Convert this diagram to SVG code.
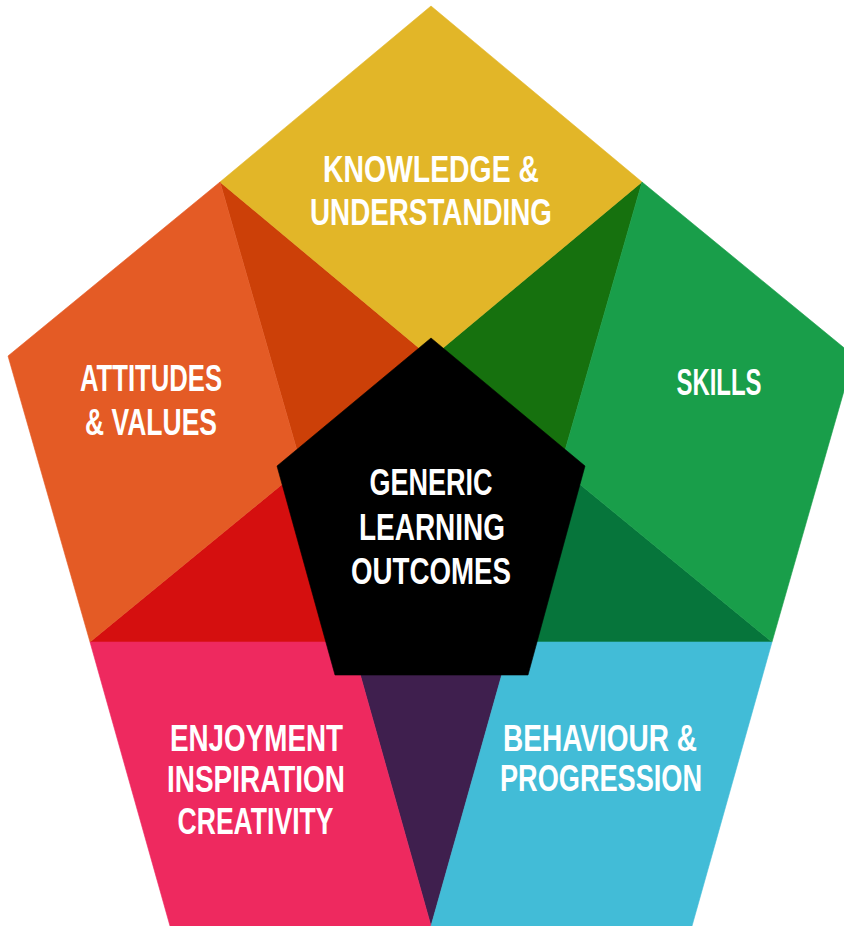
<svg xmlns="http://www.w3.org/2000/svg" width="844" height="926" viewBox="0 0 844 926">
<style>
.lbl{font-family:"Liberation Sans",Arial,sans-serif;font-weight:bold;font-size:37px;fill:#ffffff;text-anchor:middle}
.yellow{fill:#E2B628;stroke:#E2B628}
.orange{fill:#E45B25;stroke:#E45B25}
.dkorange{fill:#CC4008;stroke:#CC4008}
.red{fill:#D50F0F;stroke:#D50F0F}
.pink{fill:#EE295F;stroke:#EE295F}
.purple{fill:#3F1F4E;stroke:#3F1F4E}
.blue{fill:#42BCD7;stroke:#42BCD7}
.dkgreen2{fill:#06753B;stroke:#06753B}
.green{fill:#199E4A;stroke:#199E4A}
.dkgreen1{fill:#16710E;stroke:#16710E}
polygon{stroke-width:0.6;stroke-linejoin:miter}
</style>
<rect width="844" height="926" fill="#ffffff"/>
<g id="overlaps">
<polygon class="dkorange" points="220,182 431,358 302,468"/>
<polygon class="dkgreen1" points="642,182 431,358 560,468"/>
<polygon class="red" points="90,642 302,468 351,642"/>
<polygon class="dkgreen2" points="772,642 560,468 511,642"/>
<polygon class="purple" points="351,642 511,642 431,926"/>
</g>
<g id="knowledge">
<polygon class="yellow" points="431,6 642,182 431,358 220,182"/>
<text class="lbl" x="431" y="182" textLength="216" lengthAdjust="spacingAndGlyphs">KNOWLEDGE &amp;</text>
<text class="lbl" x="431" y="225" textLength="242" lengthAdjust="spacingAndGlyphs">UNDERSTANDING</text>
</g>
<g id="attitudes">
<polygon class="orange" points="8,356 220,182 302,468 90,642"/>
<text class="lbl" x="151" y="391" textLength="142" lengthAdjust="spacingAndGlyphs">ATTITUDES</text>
<text class="lbl" x="151" y="435" textLength="132" lengthAdjust="spacingAndGlyphs">&amp; VALUES</text>
</g>
<g id="skills">
<polygon class="green" points="642,182 854,356 772,642 560,468"/>
<text class="lbl" x="719" y="395" textLength="85" lengthAdjust="spacingAndGlyphs">SKILLS</text>
</g>
<g id="enjoyment">
<polygon class="pink" points="90,642 351,642 431,926 170,926"/>
<text class="lbl" x="256.5" y="751" textLength="173" lengthAdjust="spacingAndGlyphs">ENJOYMENT</text>
<text class="lbl" x="256" y="792" textLength="178" lengthAdjust="spacingAndGlyphs">INSPIRATION</text>
<text class="lbl" x="255.5" y="834" textLength="156" lengthAdjust="spacingAndGlyphs">CREATIVITY</text>
</g>
<g id="behaviour">
<polygon class="blue" points="511,642 772,642 692,926 431,926"/>
<text class="lbl" x="600" y="751" textLength="194" lengthAdjust="spacingAndGlyphs">BEHAVIOUR &amp;</text>
<text class="lbl" x="601" y="791" textLength="202" lengthAdjust="spacingAndGlyphs">PROGRESSION</text>
</g>
<g id="generic-learning-outcomes">
<polygon fill="#000000" stroke="#000000" points="431,338 585,466 528,675 335,675 277,466"/>
<text class="lbl" x="431" y="495" textLength="123" lengthAdjust="spacingAndGlyphs">GENERIC</text>
<text class="lbl" x="432" y="540" textLength="146" lengthAdjust="spacingAndGlyphs">LEARNING</text>
<text class="lbl" x="431" y="584" textLength="160" lengthAdjust="spacingAndGlyphs">OUTCOMES</text>
</g>
</svg>
